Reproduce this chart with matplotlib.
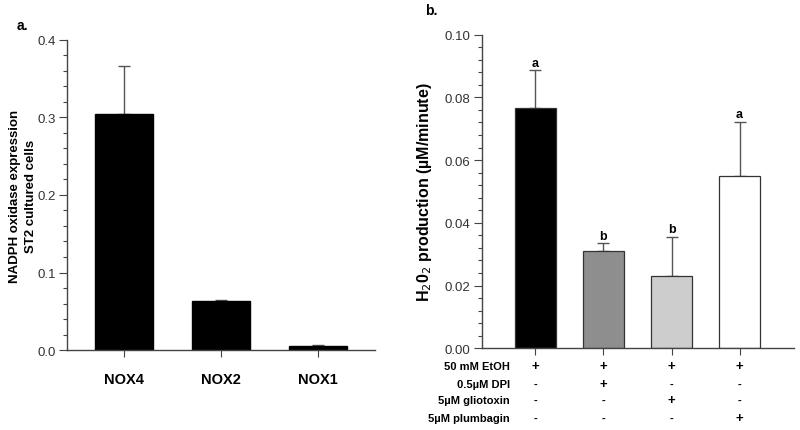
import matplotlib.pyplot as plt
from matplotlib.ticker import MultipleLocator, FormatStrFormatter

plt.rcParams['font.family'] = ['Liberation Sans', 'DejaVu Sans']

# panel a
nox_labels = ["NOX4", "NOX2", "NOX1"]
nox_values = [0.304, 0.063, 0.0055]
nox_err = [0.062, 0.002, 0.0012]

# panel b
h2o2_values = [0.0767, 0.0309, 0.0232, 0.0550]
h2o2_err = [0.0119, 0.0026, 0.0124, 0.0173]
h2o2_colors = ["#000000", "#8e8e8e", "#cdcdcd", "#ffffff"]
h2o2_letters = ["a", "b", "b", "a"]
row_names = ["50 mM EtOH", "0.5\u00b5M DPI", "5\u00b5M gliotoxin", "5\u00b5M plumbagin"]
row_signs = [["+", "+", "+", "+"],
             ["-", "+", "-", "-"],
             ["-", "-", "+", "-"],
             ["-", "-", "-", "+"]]

AX_COL = "#444444"
TXT_COL = "#333333"


def style_axis(ax):
    for s in ["top", "right"]:
        ax.spines[s].set_visible(False)
    for s in ["left", "bottom"]:
        ax.spines[s].set_color(AX_COL)
        ax.spines[s].set_linewidth(1.0)
    ax.tick_params(axis="both", which="both", direction="out", color=AX_COL, width=0.8)
    ax.tick_params(axis="y", which="major", length=6, labelsize=9.5, labelcolor=TXT_COL, pad=2)
    ax.tick_params(axis="y", which="minor", length=3)
    ax.tick_params(axis="x", which="major", length=5)


fig = plt.figure(figsize=(8, 4.31), dpi=100)

# ---- panel a ----
ax1 = fig.add_axes([0.08375, 0.1856, 0.385, 0.7193])
x1 = range(len(nox_values))
ax1.bar(x1, nox_values, width=0.6, color="black", edgecolor="black", zorder=2)
ax1.errorbar(x1, nox_values, yerr=[[0] * 3, nox_err], fmt="none",
             ecolor="#555555", elinewidth=1, capsize=4, capthick=1, zorder=1)
ax1.set_xlim(-0.59, 2.59)
ax1.set_ylim(0, 0.4)
ax1.yaxis.set_major_locator(MultipleLocator(0.1))
ax1.yaxis.set_minor_locator(MultipleLocator(0.02))
ax1.yaxis.set_major_formatter(FormatStrFormatter("%.1f"))
ax1.set_xticks(list(x1))
ax1.set_xticklabels(nox_labels, fontsize=10.5, fontweight="bold")
ax1.tick_params(axis="x", pad=11)
style_axis(ax1)
ax1.set_ylabel("NADPH oxidase expression\nST2 cultured cells",
               fontsize=9.5, fontweight="bold", linespacing=1.5)
ax1.yaxis.set_label_coords(-0.097, 0.5)
fig.text(0.021, 0.94, "a.", fontsize=10, fontweight="bold", va="center")

# ---- panel b ----
ax2 = fig.add_axes([0.6021, 0.1896, 0.3904, 0.7276])
x2 = range(len(h2o2_values))
ax2.bar(x2, h2o2_values, width=0.6, color=h2o2_colors, edgecolor="#333333",
        linewidth=0.9, zorder=2)
ax2.errorbar(x2, h2o2_values, yerr=[[0] * 4, h2o2_err], fmt="none",
             ecolor="#555555", elinewidth=1, capsize=4, capthick=1, zorder=1)
for xi, v, e, lt in zip(x2, h2o2_values, h2o2_err, h2o2_letters):
    ax2.text(xi, v + e + 0.0004, lt, ha="center", va="bottom",
             fontsize=9, fontweight="bold")
ax2.set_xlim(-0.79, 3.8)
ax2.set_ylim(0, 0.10)
ax2.yaxis.set_major_locator(MultipleLocator(0.02))
ax2.yaxis.set_minor_locator(MultipleLocator(0.004))
ax2.yaxis.set_major_formatter(FormatStrFormatter("%.2f"))
ax2.set_xticks(list(x2))
ax2.set_xticklabels([])
style_axis(ax2)
ax2.set_ylabel("H$_2$0$_2$ production (\u00b5M/minute)",
               fontsize=11.5, fontweight="bold", labelpad=8)
fig.text(0.531, 0.975, "b.", fontsize=10, fontweight="bold", va="center")

# treatment table below panel b
row_y = [367, 385, 401, 419]
for ri, (name, signs) in enumerate(zip(row_names, row_signs)):
    yfig = 1 - row_y[ri] / 431
    fig.text(0.6375, yfig, name, ha="right", va="center",
             fontsize=8, fontweight="bold")
    for xi, sg in zip(x2, signs):
        xd = ax2.transData.transform((xi, 0))[0]
        xf = fig.transFigure.inverted().transform((xd, 0))[0]
        fig.text(xf, yfig, sg, ha="center", va="center",
                 fontsize=9.5 if sg == "+" else 8, fontweight="bold")

fig.savefig("out.png", dpi=100)
